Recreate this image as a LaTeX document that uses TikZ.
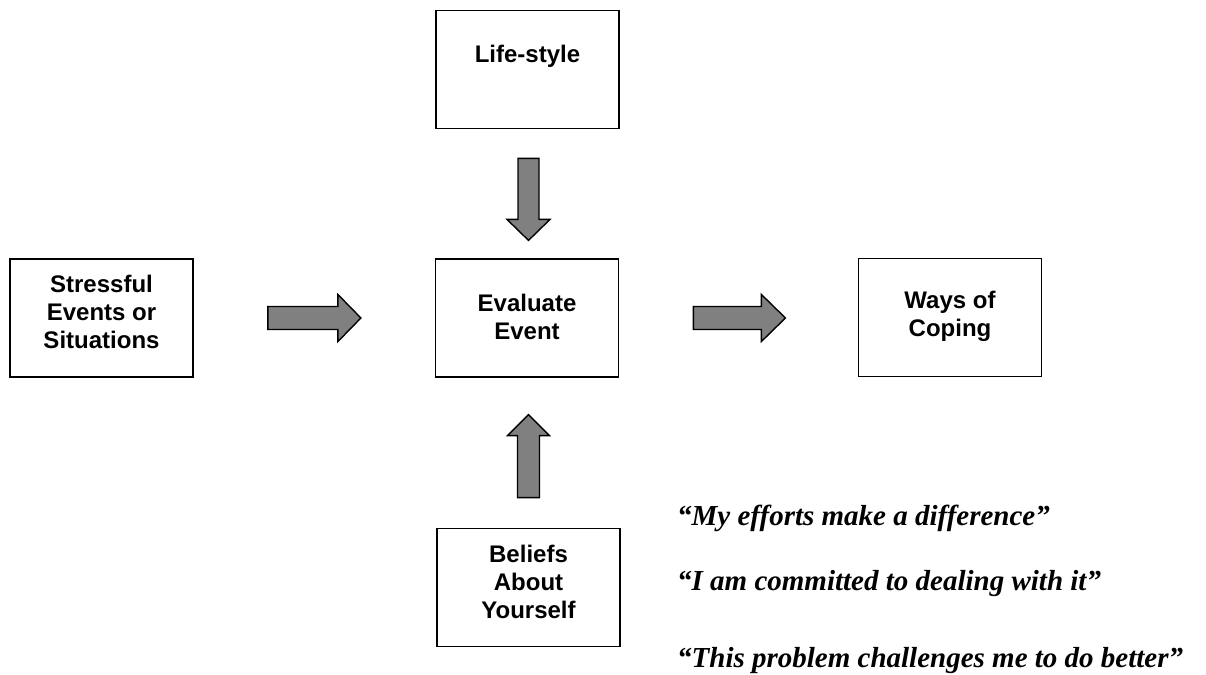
\documentclass[tikz,border=0pt]{standalone}
\usepackage{fontspec}
\setmainfont{Liberation Serif}
\setsansfont{Liberation Sans}
\usetikzlibrary{calc}
\tikzset{
  box/.style={draw=black, line width=1.8pt, fill=white, minimum width=183pt, minimum height=118pt, inner sep=0pt},
  boxtext/.style={font=\sffamily\bfseries\fontsize{24}{28}\selectfont, align=center, inner sep=0pt},
  quote/.style={font=\bfseries\itshape\fontsize{29}{32}\selectfont, anchor=base west, inner sep=0pt},
  blk/.style={draw=black, line width=1.4pt, fill=gray50, line join=miter}
}
\definecolor{gray50}{RGB}{128,128,128}
% #1 start coordinate, #2 rotation, #3 length, #4 half shaft, #5 half head, #6 head length
\newcommand{\blockarrow}[6]{%
  \draw[blk, shift={(#1)}, rotate=#2] (0,-#4) -- (#3-#6,-#4) -- (#3-#6,-#5) -- (#3,0) -- (#3-#6,#5) -- (#3-#6,#4) -- (0,#4) -- cycle;}
\begin{document}
\begin{tikzpicture}[x=1pt,y=1pt]
\useasboundingbox (0,0) rectangle (1206,-674);
% boxes
\node[box] (stress) at (101.5,-318) {};
\node[box] (eval) at (527,-318) {};
\node[box] (ways) at (950,-317.5) {};
\node[box] (life) at (527.5,-69.5) {};
\node[box] (beliefs) at (528.5,-587.5) {};
% box texts
\node[boxtext] (stresst) at (101.5,-311.5) {Stressful\\Events or\\Situations};
\node[boxtext] (evalt) at (527,-316.5) {Evaluate\\Event};
\node[boxtext] (wayst) at (950,-316) {Ways of\\Coping};
\node[boxtext] (lifet) at (527.5,-56) {Life-style};
\node[boxtext] (beliefst) at (528.5,-582) {Beliefs\\About\\Yourself};
% arrow coordinates
\coordinate (a1) at ($(stress.east)+(74,0)$);
\coordinate (a2) at ($(eval.east)+(74,0)$);
\coordinate (a3) at ($(life.south)+(1,-29)$);
\coordinate (a4) at ($(beliefs.north)+(0,30)$);
\blockarrow{a1}{0}{93}{11.5}{23.5}{23}
\blockarrow{a2}{0}{92}{11.5}{23.5}{24}
\blockarrow{a3}{-90}{82}{10.5}{21.5}{21}
\blockarrow{a4}{90}{83}{11}{21}{21}
% quotes
\node[quote] (q1) at (677,-525) {``My efforts make a difference''};
\node[quote] (q2) at (677,-590) {``I am committed to dealing with it''};
\node[quote] (q3) at (677,-667) {``This problem challenges me to do better''};
\end{tikzpicture}
\end{document}
